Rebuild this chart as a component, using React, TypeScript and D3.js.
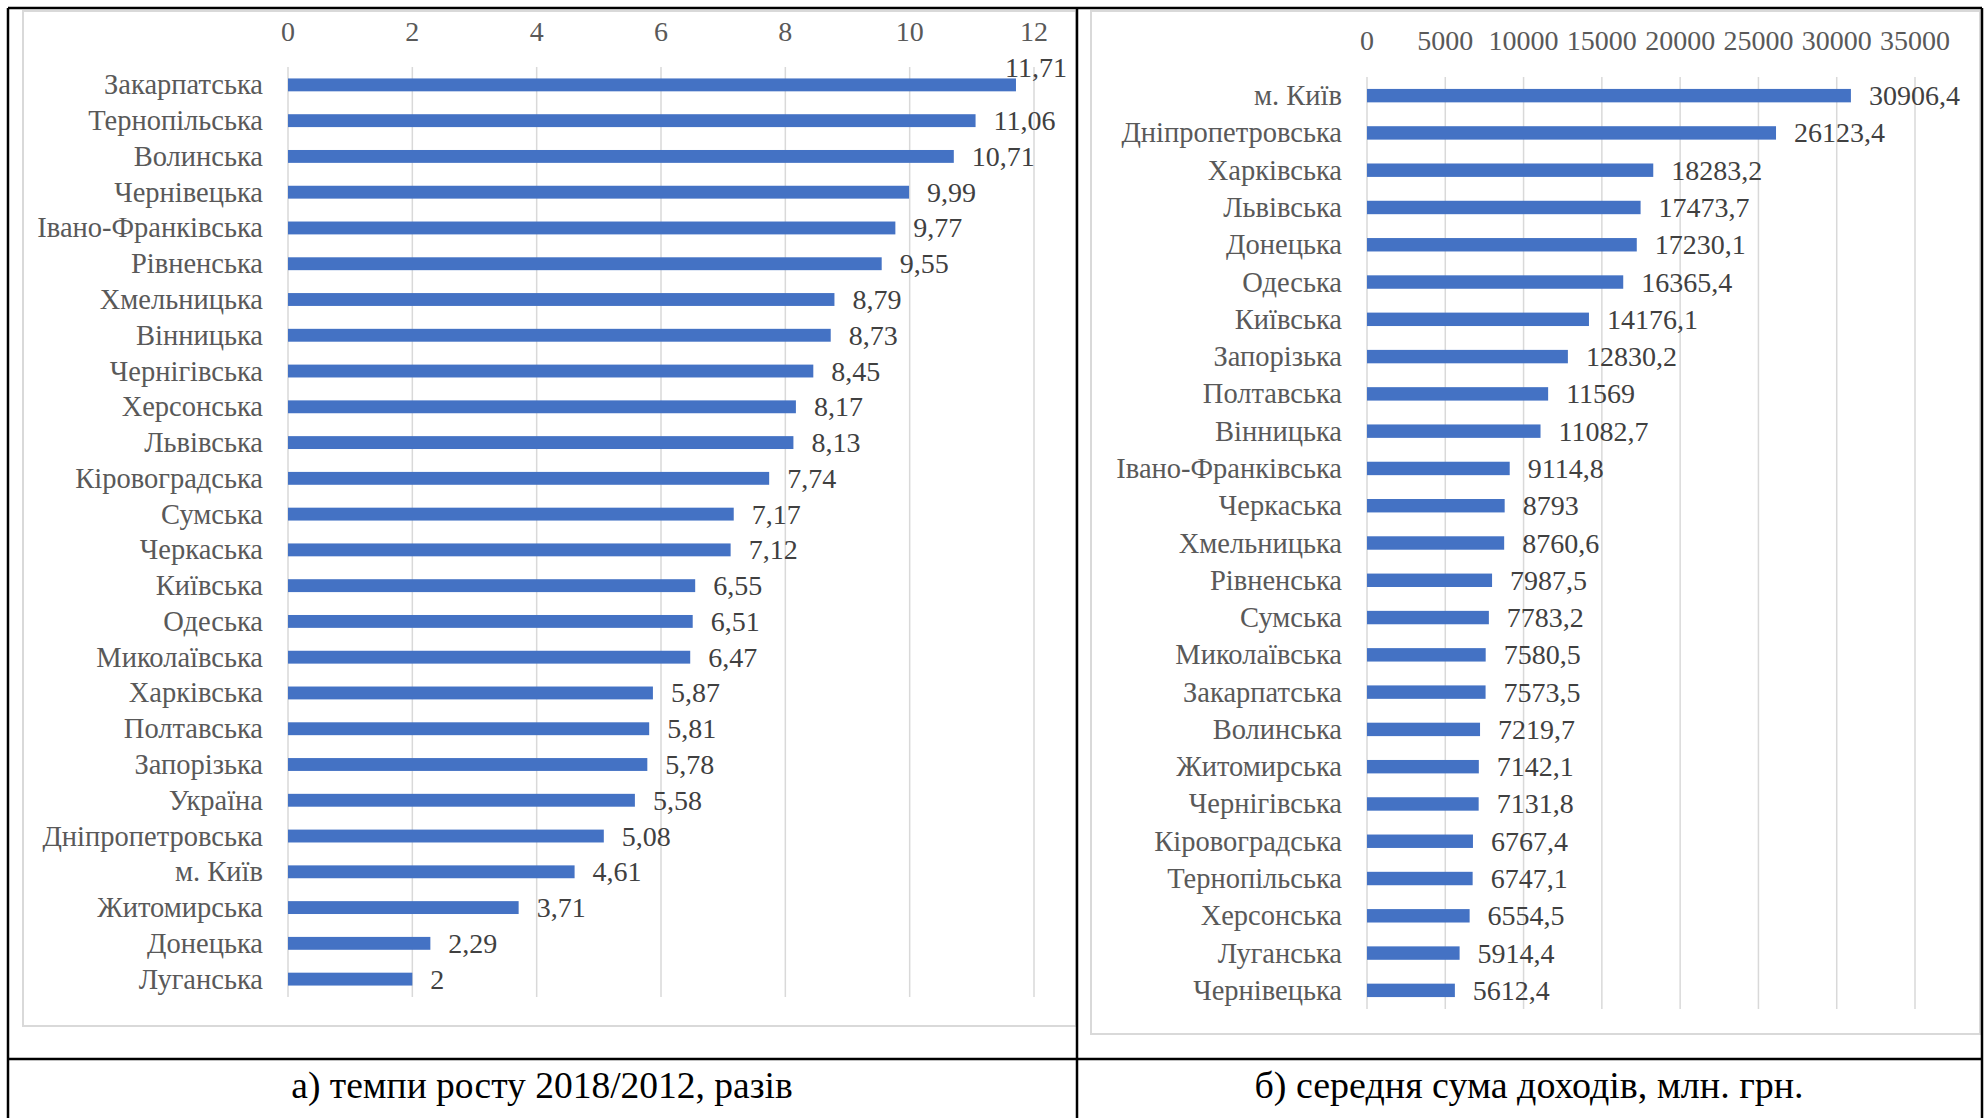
import * as d3 from "d3";

// a) growth rate 2018/2012, times
const growthRegions = [
  "Закарпатська", "Тернопільська", "Волинська", "Чернівецька", "Івано-Франківська",
  "Рівненська", "Хмельницька", "Вінницька", "Чернігівська", "Херсонська",
  "Львівська", "Кіровоградська", "Сумська", "Черкаська", "Київська",
  "Одеська", "Миколаївська", "Харківська", "Полтавська", "Запорізька",
  "Україна", "Дніпропетровська", "м. Київ", "Житомирська", "Донецька", "Луганська",
];
const growthValues = [
  11.71, 11.06, 10.71, 9.99, 9.77, 9.55, 8.79, 8.73, 8.45, 8.17, 8.13, 7.74, 7.17,
  7.12, 6.55, 6.51, 6.47, 5.87, 5.81, 5.78, 5.58, 5.08, 4.61, 3.71, 2.29, 2,
];
const growthTicks = [0, 2, 4, 6, 8, 10, 12];

// б) average income, mln UAH
const incomeRegions = [
  "м. Київ", "Дніпропетровська", "Харківська", "Львівська", "Донецька",
  "Одеська", "Київська", "Запорізька", "Полтавська", "Вінницька",
  "Івано-Франківська", "Черкаська", "Хмельницька", "Рівненська", "Сумська",
  "Миколаївська", "Закарпатська", "Волинська", "Житомирська", "Чернігівська",
  "Кіровоградська", "Тернопільська", "Херсонська", "Луганська", "Чернівецька",
];
const incomeValues = [
  30906.4, 26123.4, 18283.2, 17473.7, 17230.1, 16365.4, 14176.1, 12830.2, 11569,
  11082.7, 9114.8, 8793, 8760.6, 7987.5, 7783.2, 7580.5, 7573.5, 7219.7, 7142.1,
  7131.8, 6767.4, 6747.1, 6554.5, 5914.4, 5612.4,
];
const incomeTicks = [0, 5000, 10000, 15000, 20000, 25000, 30000, 35000];

const captions = ["а) темпи росту 2018/2012, разів", "б) середня сума доходів, млн. грн."];

const W = 1986;
const H = 1118;
const FONT = "'Liberation Serif', 'Times New Roman', serif";
const BAR = "#4472C4";
const GRID = "#d9d9d9";

const fmt = (v: number) => String(v).replace(".", ",");

interface PanelProps {
  cats: string[];
  values: number[];
  ticks: number[];
  left: number;
  right: number;
  top: number;
  bottom: number;
  tickY: number;
  frame: [number, number, number, number];
  labelLimit: number;
}

function Panel({ cats, values, ticks, left, right, top, bottom, tickY, frame, labelLimit }: PanelProps) {
  const x = d3.scaleLinear().domain([ticks[0], ticks[ticks.length - 1]]).range([left, right]);
  const y = d3.scaleBand<string>().domain(cats).range([top, bottom]).paddingInner(0.64).paddingOuter(0.32);
  const bw = y.bandwidth();
  const [fx0, fy0, fx1, fy1] = frame;

  return (
    <g>
      <rect x={fx0} y={fy0} width={fx1 - fx0} height={fy1 - fy0} fill="#fff" stroke={GRID} strokeWidth={2} />
      {ticks.map((t) => (
        <g key={t}>
          <line x1={x(t)} x2={x(t)} y1={top} y2={bottom} stroke={GRID} strokeWidth={1.5} />
          <text x={x(t)} y={tickY} textAnchor="middle" dominantBaseline="central"
            fontFamily={FONT} fontSize={28} fill="#595959">{t}</text>
        </g>
      ))}
      {cats.map((c, i) => {
        const cy = (y(c) ?? 0) + bw / 2;
        const xe = x(values[i]);
        const label = fmt(values[i]);
        const approxW = label.length * 14;
        // label that would run past the plot edge goes above the bar end, as Excel does
        const above = xe + 18 + approxW > labelLimit;
        return (
          <g key={c}>
            <text x={left - 25} y={cy} textAnchor="end" dominantBaseline="central"
              fontFamily={FONT} fontSize={28.5} fill="#595959">{c}</text>
            <rect x={x(0)} y={cy - bw / 2} width={xe - x(0)} height={bw} fill={BAR} />
            <text x={above ? xe - 11 : xe + 18} y={above ? cy - 17 : cy} dominantBaseline="central"
              fontFamily={FONT} fontSize={28} fill="#404040">{label}</text>
          </g>
        );
      })}
    </g>
  );
}

export default function App() {
  return (
    <svg width={W} height={H} style={{ position: "absolute", left: 0, top: 0, background: "#fff" }}>
      <rect x={0} y={0} width={W} height={H} fill="#fff" />
      <Panel cats={growthRegions} values={growthValues} ticks={growthTicks}
        left={288} right={1034} top={67} bottom={997} tickY={31}
        frame={[23, 11, 1076, 1026]} labelLimit={1070} />
      <Panel cats={incomeRegions} values={incomeValues} ticks={incomeTicks}
        left={1367} right={1915} top={77} bottom={1009} tickY={40}
        frame={[1091, 11, 1980, 1034]} labelLimit={1975} />
      {/* table borders */}
      <g stroke="#000" strokeWidth={2.5} fill="none">
        <line x1={8} x2={1982} y1={8} y2={8} />
        <line x1={8} x2={8} y1={8} y2={H} />
        <line x1={1982} x2={1982} y1={8} y2={H} />
        <line x1={1077} x2={1077} y1={8} y2={H} />
        <line x1={8} x2={1982} y1={1059} y2={1059} />
      </g>
      <text x={542} y={1085} textAnchor="middle" dominantBaseline="central"
        fontFamily={FONT} fontSize={37.5} fill="#000">{captions[0]}</text>
      <text x={1529} y={1085} textAnchor="middle" dominantBaseline="central"
        fontFamily={FONT} fontSize={38} fill="#000">{captions[1]}</text>
    </svg>
  );
}
